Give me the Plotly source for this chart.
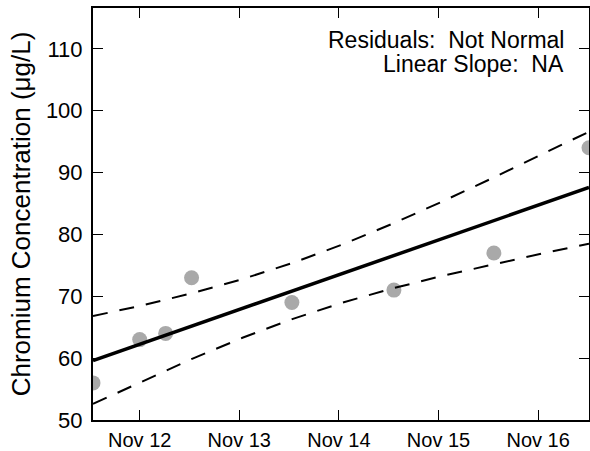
import plotly.graph_objects as go

# Observed samples
sample_dates = ["2015-11-11 12:45", "2015-11-12 00:00", "2015-11-12 06:15", "2015-11-12 12:30",
                "2015-11-13 12:40", "2015-11-14 13:15", "2015-11-15 13:20", "2015-11-16 12:15"]
chromium = [56, 63, 64, 73, 69, 71, 77, 94]

# Linear fit and confidence band
band_dates = ["2015-11-11 12:45", "2015-11-12 00:45", "2015-11-12 12:45", "2015-11-13 00:45",
              "2015-11-13 12:45", "2015-11-14 00:45", "2015-11-14 12:45", "2015-11-15 00:45",
              "2015-11-15 12:45", "2015-11-16 00:45", "2015-11-16 12:15"]
fit_values = [59.6, 62.41, 65.22, 68.03, 70.84, 73.65, 76.46, 79.27, 82.08, 84.89, 87.6]
upper_band = [66.8, 68.55, 70.51, 72.77, 75.37, 78.35, 81.68, 85.27, 89.03, 92.85, 96.6]
lower_band = [52.6, 56.32, 59.93, 63.29, 66.31, 68.95, 71.24, 73.27, 75.13, 76.88, 78.5]

y_ticks = [50, 60, 70, 80, 90, 100, 110]
x_ticks = ["2015-11-12", "2015-11-13", "2015-11-14", "2015-11-15", "2015-11-16"]
x_tick_labels = ["Nov 12", "Nov 13", "Nov 14", "Nov 15", "Nov 16"]

note_lines = ["Residuals:  Not Normal", "Linear Slope:  NA"]
y_title = "Chromium Concentration (μg/L)"

FONT = "Liberation Sans, Arial, sans-serif"

fig = go.Figure()
fig.add_trace(go.Scatter(x=sample_dates, y=chromium, mode="markers",
                         marker=dict(color="#a9a9a9", size=15, line=dict(width=0)),
                         showlegend=False))
fig.add_trace(go.Scatter(x=band_dates, y=upper_band, mode="lines",
                         line=dict(color="black", width=2, dash="15px,12px"), showlegend=False))
fig.add_trace(go.Scatter(x=band_dates, y=lower_band, mode="lines",
                         line=dict(color="black", width=2, dash="15px,12px"), showlegend=False))
fig.add_trace(go.Scatter(x=band_dates, y=fit_values, mode="lines",
                         line=dict(color="black", width=3.5), showlegend=False))

for line_text, ypos in zip(note_lines, [0.922, 0.865]):
    fig.add_annotation(xref="paper", yref="paper", x=0.953, y=ypos, xanchor="right",
                       yanchor="middle", align="right", showarrow=False,
                       text=line_text,
                       font=dict(family=FONT, size=23, color="black"))

fig.update_layout(
    width=590, height=451,
    margin=dict(l=93, r=1, t=8, b=31),
    paper_bgcolor="white", plot_bgcolor="white",
    font=dict(family=FONT, color="black"),
)
fig.update_xaxes(range=[band_dates[0], band_dates[-1]], tickvals=x_ticks, ticktext=x_tick_labels,
                 ticks="inside", ticklen=10, tickwidth=1, tickcolor="black",
                 showline=True, linewidth=2, linecolor="black", mirror="ticks",
                 showgrid=False, zeroline=False, automargin=False,
                 ticklabelstandoff=1,
                 tickfont=dict(size=20, family=FONT))
fig.update_yaxes(range=[50, 116.6], tickvals=y_ticks,
                 ticks="inside", ticklen=10, tickwidth=1, tickcolor="black",
                 showline=True, linewidth=2, linecolor="black", mirror="ticks",
                 showgrid=False, zeroline=False, automargin=False,
                 tickfont=dict(size=22, family=FONT),
                 ticklabelstandoff=4,
                 title=dict(text=y_title, font=dict(size=26, family=FONT), standoff=8))

fig.write_html("out.html", config={"displayModeBar": False},
               post_script="document.body.style.margin='0';document.body.style.overflow='hidden';")
